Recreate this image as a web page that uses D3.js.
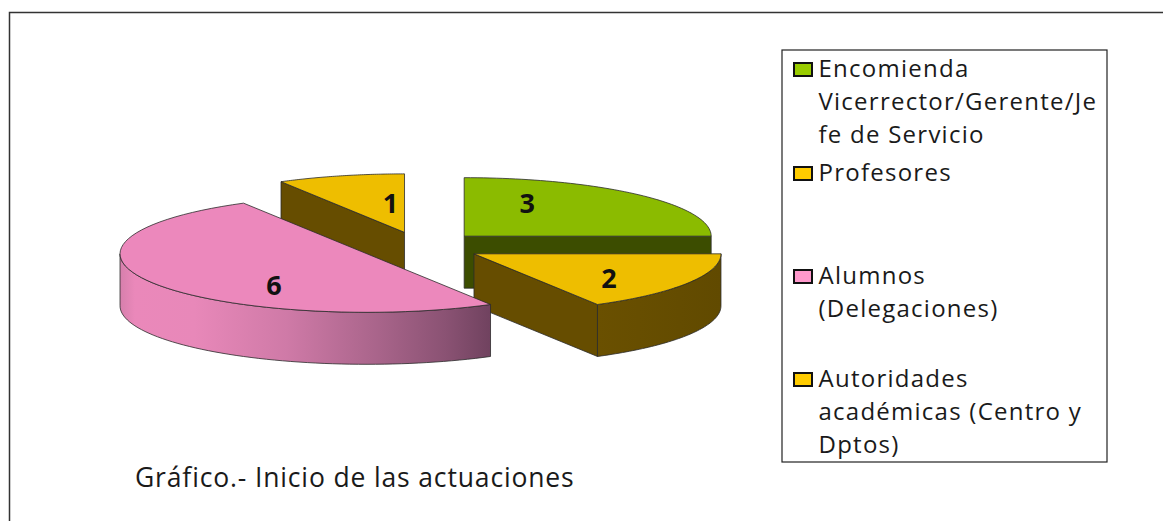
<!DOCTYPE html>
<html>
<head>
<meta charset="utf-8">
<script src="https://cdn.jsdelivr.net/npm/d3@7"></script>
<style>
    html, body { margin: 0; padding: 0; background: #fff; }
    svg { display: block; }
    text { font-family: "Open Sans", sans-serif; fill: #1a1a1a; }
</style>
</head>
<body>
<svg id="chart"></svg>
<script>
const categories = ['Encomienda', 'Profesores', 'Alumnos', 'Autoridades'];
const values = [3, 2, 6, 1];
const topColors = ['#8bbb00', '#eebe00', '#ec88bc', '#eebe00'];
const faceColors = ['#3c4d00', '#664d00', '#ec88bc', '#664d00'];
const swatchColors = ['#99cc00', '#ffcc00', '#ff99cc', '#ffcc00'];
const legendLines = [
    ['Encomienda', 'Vicerrector/Gerente/Je', 'fe de Servicio'],
    ['Profesores'],
    ['Alumnos', '(Delegaciones)'],
    ['Autoridades', 'académicas (Centro y', 'Dptos)']
];
const chartTitle = 'Gráfico.- Inicio de las actuaciones';

const width = 1163, height = 521;
const cx = 420.5, cy = 246.5, rx = 247, ry = 58.5, depth = 52, explode = 0.25;
const labelOffsets = [[63, -23], [135, 34], [-93, 41], [-14, -19]];
const legendRows = [76.5, 180.5, 283.5, 386.5];
const lineGap = 33;

const svg = d3.select('#chart').attr('width', width).attr('height', height);

// picture frame, only top and left are visible
svg.append('path')
    .attr('d', `M9.5,${height}V12.5H${width}`)
    .attr('fill', 'none')
    .attr('stroke', '#333')
    .attr('stroke-width', 1.5);

const xScale = d3.scaleLinear().domain([-1, 1]).range([-rx, rx]);
const yScale = d3.scaleLinear().domain([-1, 1]).range([ry, -ry]);
const pie = d3.pie().sort(null).value(d => d)(values);

const line = d3.line();
const arcPoints = (a0, a1, ox, oy) => d3.range(0, 61).map(i => {
    const a = a0 + (a1 - a0) * i / 60;
    return [ox + xScale(Math.sin(a)), oy + yScale(Math.cos(a))];
});

const slices = pie.map((d, i) => {
    const mid = (d.startAngle + d.endAngle) / 2;
    return {
        i,
        a0: d.startAngle,
        a1: d.endAngle,
        ox: cx + xScale(Math.sin(mid)) * explode,
        oy: cy + yScale(Math.cos(mid)) * explode
    };
});

const defs = svg.append('defs');
const pinkGrad = defs.append('linearGradient')
    .attr('id', 'pinkWall')
    .attr('gradientUnits', 'userSpaceOnUse')
    .attr('x1', xScale(-1) + slices[2].ox).attr('x2', slices[2].ox + xScale(0.5))
    .attr('y1', 0).attr('y2', 0);
[[0, '#d67fac'], [0.04, '#ea88ba'], [0.2, '#e888b9'], [0.45, '#cf7aa7'], [0.7, '#a8648a'], [0.88, '#8a5273'], [1, '#70425f']]
    .forEach(s => pinkGrad.append('stop').attr('offset', s[0]).attr('stop-color', s[1]));
const brownGrad = defs.append('linearGradient')
    .attr('id', 'brownWall')
    .attr('x1', 0).attr('x2', 1).attr('y1', 0).attr('y2', 0);
[[0, '#6a5000'], [1, '#614a00']]
    .forEach(s => brownGrad.append('stop').attr('offset', s[0]).attr('stop-color', s[1]));

const pieG = svg.append('g')
    .attr('stroke', '#2b2b2b')
    .attr('stroke-width', 0.8)
    .attr('stroke-linejoin', 'round');

// flat cut face that goes from the apex to the rim at one angle
function drawFace(s, a, fill) {
    const apex = [s.ox, s.oy];
    const rim = [s.ox + xScale(Math.sin(a)), s.oy + yScale(Math.cos(a))];
    pieG.append('path')
        .attr('d', line([apex, rim, [rim[0], rim[1] + depth], [apex[0], apex[1] + depth]]) + 'Z')
        .attr('fill', fill);
}

// curved outer wall between two angles
function drawWall(s, a0, a1, fill) {
    const rim = arcPoints(a0, a1, s.ox, s.oy);
    const low = rim.map(p => [p[0], p[1] + depth]).reverse();
    pieG.append('path')
        .attr('d', line(rim.concat(low)) + 'Z')
        .attr('fill', fill);
}

function drawTop(s) {
    pieG.append('path')
        .attr('d', line([[s.ox, s.oy]].concat(arcPoints(s.a0, s.a1, s.ox, s.oy))) + 'Z')
        .attr('fill', topColors[s.i]);
}

// back to front: green, small yellow, big yellow, pink
drawFace(slices[0], slices[0].a1, faceColors[0]);
drawTop(slices[0]);

drawFace(slices[3], slices[3].a0, faceColors[3]);
drawTop(slices[3]);

drawFace(slices[1], slices[1].a1, faceColors[1]);
drawWall(slices[1], slices[1].a0, slices[1].a1, 'url(#brownWall)');
drawTop(slices[1]);

drawWall(slices[2], slices[2].a0, Math.PI * 1.5, 'url(#pinkWall)');
drawTop(slices[2]);

svg.append('g').selectAll('text')
    .data(slices)
    .join('text')
    .attr('x', d => d.ox + labelOffsets[d.i][0])
    .attr('y', d => d.oy + labelOffsets[d.i][1])
    .attr('text-anchor', 'middle')
    .attr('font-size', 27)
    .attr('font-weight', 700)
    .style('fill', '#111')
    .text((d, i) => values[i]);

// legend
svg.append('rect')
    .attr('x', 782).attr('y', 50)
    .attr('width', 325).attr('height', 412)
    .attr('fill', '#fff')
    .attr('stroke', '#222')
    .attr('stroke-width', 1.2);

const legend = svg.append('g').selectAll('g')
    .data(categories)
    .join('g')
    .attr('transform', (d, i) => `translate(0,${legendRows[i]})`);

legend.append('rect')
    .attr('x', 794).attr('y', -13.5)
    .attr('width', 18).attr('height', 13)
    .attr('fill', (d, i) => swatchColors[i])
    .attr('stroke', '#111')
    .attr('stroke-width', 2);

legend.selectAll('text')
    .data((d, i) => legendLines[i])
    .join('text')
    .attr('x', 818.5)
    .attr('y', (d, i) => i * lineGap)
    .attr('font-size', 24)
    .attr('letter-spacing', 1.25)
    .text(d => d);

svg.append('text')
    .attr('x', 135).attr('y', 487)
    .attr('font-size', 26.5)
    .attr('letter-spacing', 0.85)
    .text(chartTitle);
</script>
</body>
</html>
